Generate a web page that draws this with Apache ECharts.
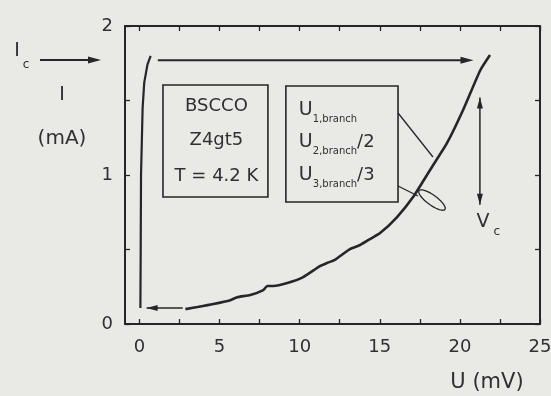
<!DOCTYPE html>
<html>
<head>
<meta charset="utf-8">
<script src="https://cdn.jsdelivr.net/npm/echarts@6/dist/echarts.min.js"></script>
<style>
  html, body { margin: 0; padding: 0; background: #e9e9e6; }
  #chart { width: 551px; height: 396px; }
</style>
</head>
<body>
<div id="chart"></div>
<script>
// Current-voltage characteristic of a BSCCO stack (Z4gt5, T = 4.2 K)

// Supercurrent (zero-voltage) branch: U in mV, I in mA
const superU = [0.06, 0.08, 0.10, 0.20, 0.30, 0.50, 0.70];
const superI = [0.107, 0.50, 1.00, 1.45, 1.62, 1.74, 1.80];

// Resistive branch
const branchU = [2.87, 3.62, 4.61, 5.67, 6.10, 6.92, 7.73, 7.98, 8.35, 9.23, 10.22,
                 11.27, 11.70, 12.20, 12.70, 13.14, 13.77, 14.39, 15.02, 16.08, 17.08,
                 18.14, 19.20, 20.20, 21.26, 21.88];
const branchI = [0.100, 0.114, 0.134, 0.160, 0.180, 0.195, 0.228, 0.255, 0.255, 0.275, 0.315,
                 0.389, 0.409, 0.430, 0.470, 0.503, 0.530, 0.570, 0.610, 0.718, 0.852,
                 1.034, 1.215, 1.436, 1.700, 1.805];

// Axis ticks and labels
const xTicks = [0, 2.5, 5, 7.5, 10, 12.5, 15, 17.5, 20, 22.5, 25];
const xLabels = [0, 5, 10, 15, 20, 25];
const yLabels = [0, 1, 2];

// Annotation anchors (data coordinates: U in mV, I in mA)
const switchArrow = [[1.15, 1.77], [20.85, 1.77]];   // jump at Ic
const returnArrow = [[2.70, 0.107], [0.45, 0.107]];  // return to zero voltage
const vcArrow = [[21.25, 1.52], [21.25, 0.80]];      // Vc span
const sampleBox = [[1.47, 1.604], [8.02, 0.852]];
const sampleLines = ['BSCCO', 'Z4gt5', 'T = 4.2 K'];
const sampleLineY = [1.463, 1.235, 0.990];
const branchBox = [[9.14, 1.597], [16.14, 0.819]];
const branchSubs = ['1,branch', '2,branch', '3,branch'];
const branchDiv = ['', '/2', '/3'];
const branchLineY = [1.436, 1.221, 1.000];
const leader1 = [[16.14, 1.416], [18.32, 1.121]];
const leader2 = [[16.14, 0.926], [17.38, 0.859]];
const loopCenter = [18.26, 0.832];

const INK = '#262626';
const TEXT = '#303030';
const FONT = '"DejaVu Sans", "Liberation Sans", sans-serif';

const measureCtx = document.createElement('canvas').getContext('2d');
function textWidth(str, size) {
  measureCtx.font = size + 'px ' + FONT;
  return measureCtx.measureText(str).width;
}

function arrowHead(tip, from, len, half) {
  const dx = tip[0] - from[0], dy = tip[1] - from[1];
  const d = Math.hypot(dx, dy) || 1;
  const ux = dx / d, uy = dy / d;
  const bx = tip[0] - ux * len, by = tip[1] - uy * len;
  return {
    type: 'polygon',
    shape: { points: [tip, [bx - uy * half, by + ux * half], [bx + uy * half, by - ux * half]] },
    style: { fill: INK }
  };
}

function renderAnnotations(params, api) {
  const P = (p) => api.coord(p);
  const kids = [];
  const line = (a, b, w) => kids.push({
    type: 'line', shape: { x1: a[0], y1: a[1], x2: b[0], y2: b[1] },
    style: { stroke: INK, lineWidth: w }
  });

  // switching arrow
  let a = P(switchArrow[0]), b = P(switchArrow[1]);
  line(a, [b[0] - 8, b[1]], 2);
  kids.push(arrowHead(b, a, 13, 3.5));

  // return arrow
  a = P(returnArrow[0]); b = P(returnArrow[1]);
  line(a, b, 1.6);
  kids.push(arrowHead(b, a, 11, 3));

  // Vc double arrow
  a = P(vcArrow[0]); b = P(vcArrow[1]);
  line(a, b, 1.5);
  kids.push(arrowHead(a, b, 11, 3));
  kids.push(arrowHead(b, a, 11, 3));
  kids.push({ type: 'text', x: b[0] + 3, y: b[1] + 17,
    style: { text: 'V', fontSize: 19, fontFamily: FONT, fill: TEXT, align: 'center', verticalAlign: 'middle' } });
  kids.push({ type: 'text', x: b[0] + 17, y: b[1] + 27,
    style: { text: 'c', fontSize: 12, fontFamily: FONT, fill: TEXT, align: 'center', verticalAlign: 'middle' } });

  // sample box
  let c1 = P(sampleBox[0]), c2 = P(sampleBox[1]);
  kids.push({ type: 'rect', shape: { x: c1[0], y: c1[1], width: c2[0] - c1[0], height: c2[1] - c1[1] },
    style: { fill: 'none', stroke: INK, lineWidth: 1.6 } });
  const cx = (c1[0] + c2[0]) / 2;
  sampleLines.forEach((s, i) => {
    const yy = P([0, sampleLineY[i]])[1];
    kids.push({ type: 'text', x: cx + 1, y: yy,
      style: { text: s, fontSize: 18, fontFamily: FONT, fill: TEXT, align: 'center', verticalAlign: 'middle' } });
  });

  // branch box
  c1 = P(branchBox[0]); c2 = P(branchBox[1]);
  kids.push({ type: 'rect', shape: { x: c1[0], y: c1[1], width: c2[0] - c1[0], height: c2[1] - c1[1] },
    style: { fill: 'none', stroke: INK, lineWidth: 1.6 } });
  const x0 = c1[0] + 13;
  branchSubs.forEach((s, i) => {
    const yy = P([0, branchLineY[i]])[1];
    const uw = textWidth('U', 19);
    kids.push({ type: 'text', x: x0, y: yy,
      style: { text: 'U', fontSize: 19, fontFamily: FONT, fill: TEXT, align: 'left', verticalAlign: 'middle' } });
    kids.push({ type: 'text', x: x0 + uw, y: yy + 9,
      style: { text: s, fontSize: 10, fontFamily: FONT, fill: TEXT, align: 'left', verticalAlign: 'middle' } });
    if (branchDiv[i]) {
      kids.push({ type: 'text', x: x0 + uw + textWidth(s, 10), y: yy,
        style: { text: branchDiv[i], fontSize: 18, fontFamily: FONT, fill: TEXT, align: 'left', verticalAlign: 'middle' } });
    }
  });

  // leader lines
  line(P(leader1[0]), P(leader1[1]), 1.3);
  line(P(leader2[0]), P(leader2[1]), 1.3);

  // loop marking the upper branches
  const lc = P(loopCenter);
  const th = 36 * Math.PI / 180, ra = 16, rb = 5;
  const pts = [];
  for (let k = 0; k <= 48; k++) {
    const t = k / 48 * Math.PI * 2;
    pts.push([lc[0] + ra * Math.cos(t) * Math.cos(th) - rb * Math.sin(t) * Math.sin(th),
              lc[1] + ra * Math.cos(t) * Math.sin(th) + rb * Math.sin(t) * Math.cos(th)]);
  }
  kids.push({ type: 'polyline', shape: { points: pts }, style: { stroke: INK, lineWidth: 1.3, fill: 'none' } });

  return { type: 'group', children: kids };
}

const axisLineStyle = { color: INK, width: 2 };
const tickStyle = { color: INK, width: 1.3 };

function xAxis(pos, labels) {
  return {
    type: 'value', position: pos, min: -0.9, max: 25, gridIndex: 0,
    axisLine: { show: true, onZero: false, lineStyle: axisLineStyle },
    axisTick: { show: true, inside: true, length: 5, customValues: xTicks, lineStyle: tickStyle },
    axisLabel: labels
      ? { show: true, customValues: xLabels, fontSize: 18, fontFamily: FONT, color: TEXT, margin: 14 }
      : { show: false },
    splitLine: { show: false }
  };
}
function yAxis(pos, labels) {
  return {
    type: 'value', position: pos, min: 0, max: 2, interval: 0.5, gridIndex: 0,
    axisLine: { show: true, onZero: false, lineStyle: axisLineStyle },
    axisTick: { show: true, inside: true, length: 5, lineStyle: tickStyle },
    axisLabel: labels
      ? { show: true, customValues: yLabels, fontSize: 18, fontFamily: FONT, color: TEXT, margin: 12 }
      : { show: false },
    splitLine: { show: false }
  };
}

const chart = echarts.init(document.getElementById('chart'), null, { renderer: 'canvas' });
chart.setOption({
  backgroundColor: '#e9e9e6',
  animation: false,
  grid: { left: 125, right: 11, top: 26, bottom: 72, containLabel: false, outerBoundsMode: 'none' },
  xAxis: [xAxis('bottom', true), xAxis('top', false)],
  yAxis: [yAxis('left', true), yAxis('right', false)],
  graphic: [
    { type: 'text', x: 17, y: 51, style: { text: 'I', fontSize: 19, fontFamily: FONT, fill: TEXT, align: 'center', verticalAlign: 'middle' } },
    { type: 'text', x: 26, y: 65, style: { text: 'c', fontSize: 12, fontFamily: FONT, fill: TEXT, align: 'center', verticalAlign: 'middle' } },
    { type: 'line', shape: { x1: 40, y1: 60, x2: 92, y2: 60 }, style: { stroke: INK, lineWidth: 2 } },
    { type: 'polygon', shape: { points: [[101, 60], [88, 56.5], [88, 63.5]] }, style: { fill: INK } },
    { type: 'text', x: 62, y: 95, style: { text: 'I', fontSize: 19, fontFamily: FONT, fill: TEXT, align: 'center', verticalAlign: 'middle' } },
    { type: 'text', x: 62, y: 139, style: { text: '(mA)', fontSize: 20, fontFamily: FONT, fill: TEXT, align: 'center', verticalAlign: 'middle' } },
    { type: 'text', x: 487, y: 383, style: { text: 'U (mV)', fontSize: 21, fontFamily: FONT, fill: TEXT, align: 'center', verticalAlign: 'middle' } }
  ],
  series: [
    {
      name: 'supercurrent', type: 'line', showSymbol: false, symbol: 'none',
      data: superU.map((u, i) => [u, superI[i]]),
      lineStyle: { color: INK, width: 2.2 }
    },
    {
      name: 'resistive', type: 'line', showSymbol: false, symbol: 'none', smooth: 0.2,
      data: branchU.map((u, i) => [u, branchI[i]]),
      lineStyle: { color: INK, width: 2.6 }
    },
    {
      name: 'annotations', type: 'custom', silent: true, clip: false, z: 5,
      data: [[0, 0]],
      renderItem: renderAnnotations
    }
  ]
});
</script>
</body>
</html>
